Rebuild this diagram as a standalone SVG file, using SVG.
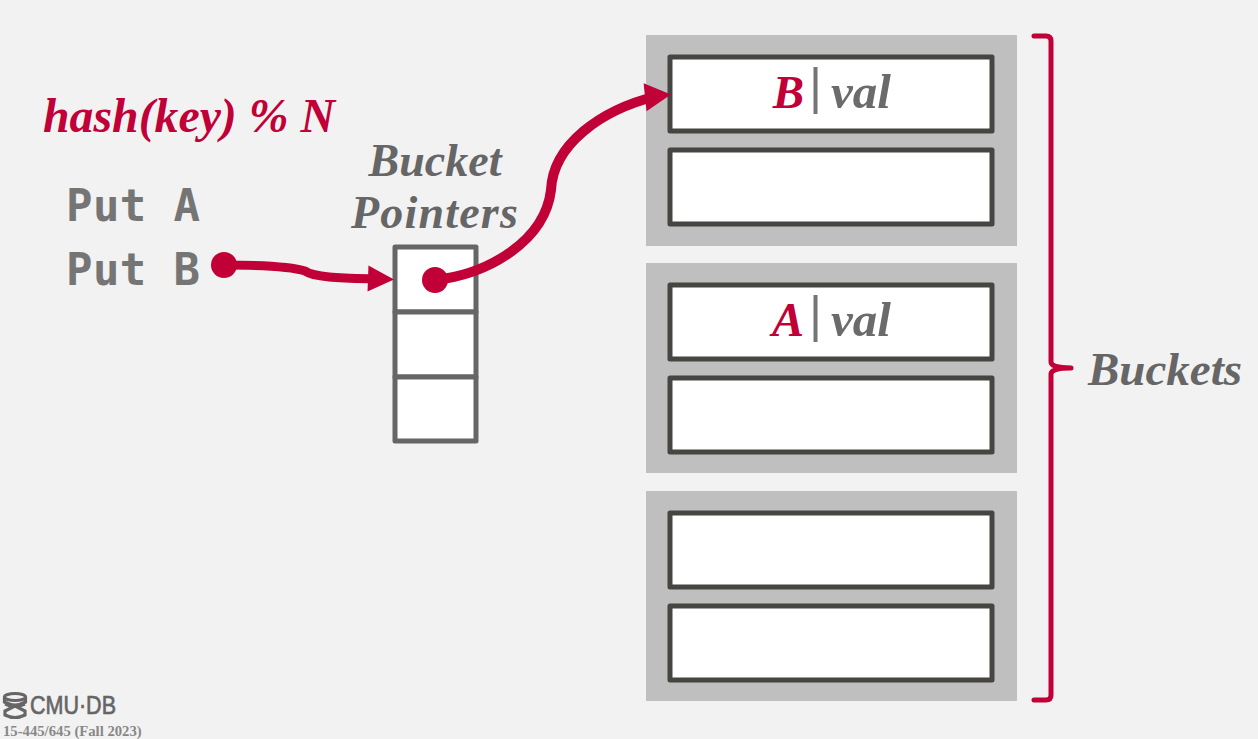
<svg xmlns="http://www.w3.org/2000/svg" width="1258" height="739" viewBox="0 0 1258 739">
<style>
.bg{fill:#bfbfbf}
.slot{fill:#fff;stroke:#464542;stroke-width:5;stroke-linejoin:round}
.ptr{fill:#fff;stroke:#666;stroke-width:5;stroke-linejoin:round}
.serif{font-family:"Liberation Serif",serif;font-style:italic;font-weight:bold}
.gray{fill:#666}
.red{fill:#c00036}
.mono{font-family:"DejaVu Sans Mono",monospace;font-weight:bold;font-size:44px;letter-spacing:.4px;fill:#757575}
.wire{fill:none;stroke:#c00036;stroke-width:9}
.wire-thick{stroke-width:10}
</style>
<defs>
<marker id="arrow-a" markerUnits="userSpaceOnUse" markerWidth="30" markerHeight="30" refX="13" refY="15" orient="2"><path d="M1 2L27 15L1 28Z" fill="#c00036"/></marker>
<marker id="arrow-b" markerUnits="userSpaceOnUse" markerWidth="30" markerHeight="30" refX="13" refY="15" orient="-6"><path d="M1 1L27 15L1 29Z" fill="#c00036"/></marker>
</defs>
<rect width="1258" height="739" fill="#f2f2f2"/>
<g id="bucket-1">
<rect class="bg" x="646" y="35" width="371" height="211"/>
<rect class="slot" x="670" y="57" width="322" height="74"/>
<rect class="slot" x="670" y="150" width="322" height="74"/>
<text class="serif red" x="804" y="108" font-size="47" text-anchor="end">B</text>
<rect x="813.500" y="67" width="4" height="47" fill="#757575"/>
<text class="serif" x="831" y="108" font-size="49" fill="#6b6b6b">val</text>
</g>
<g id="bucket-2">
<rect class="bg" x="646" y="263" width="371" height="210"/>
<rect class="slot" x="670" y="285" width="322" height="74"/>
<rect class="slot" x="670" y="378" width="322" height="74"/>
<text class="serif red" x="804" y="336" font-size="48" text-anchor="end">A</text>
<rect x="813.500" y="295" width="4" height="47" fill="#757575"/>
<text class="serif" x="831" y="336" font-size="49" fill="#6b6b6b">val</text>
</g>
<g id="bucket-3">
<rect class="bg" x="646" y="491" width="371" height="210"/>
<rect class="slot" x="670" y="513" width="322" height="74"/>
<rect class="slot" x="670" y="606" width="322" height="74"/>
</g>
<g id="bucket-pointers">
<rect class="ptr" x="395" y="247" width="81" height="65"/>
<rect class="ptr" x="395" y="312" width="81" height="65"/>
<rect class="ptr" x="395" y="377" width="81" height="64"/>
<text class="serif gray" x="435" y="176" font-size="46" text-anchor="middle">Bucket</text>
<text class="serif gray" x="435" y="228" font-size="46" letter-spacing="1.2" text-anchor="middle">Pointers</text>
</g>
<g id="hash-label"><text class="serif red" x="43" y="132" font-size="48" textLength="292" lengthAdjust="spacingAndGlyphs">hash(key) % N</text></g>
<g id="put-a"><text class="mono" x="66" y="221">Put A</text></g>
<g id="put-b"><text class="mono" x="66" y="285">Put B</text></g>
<g id="buckets-label"><text class="serif gray" x="1088" y="385" font-size="47">Buckets</text></g>
<g id="connectors">
<path class="wire" marker-end="url(#arrow-a)" d="M224 265C255 265 290 266 305 271C315 278 345 278 380 279"/>
<circle class="red" cx="224" cy="265" r="13"/>
<path class="wire wire-thick" marker-end="url(#arrow-b)" d="M435 280C490 274 545 240 551 190C553 145 600 110 657 96"/>
<circle class="red" cx="435" cy="280" r="13"/>
<path fill="none" stroke="#c00036" stroke-width="5" stroke-linecap="round" stroke-linejoin="round" d="M1034 36H1046Q1051 36 1051 41V362Q1051 368 1071 368Q1051 368 1051 374V695Q1051 700 1046 700H1034"/>
</g>
<g id="footer">
<g fill="none" stroke="#666" stroke-width="3.200"><ellipse cx="15" cy="697" rx="10.500" ry="3.500"/><path d="M4.500 697V702Q15 708 25.500 702V697M5 704L13 707L5 711V715Q15 720 25 715V711L17 707L25 704"/></g>
<text x="30" y="714" font-family="Liberation Sans,sans-serif" font-size="26" fill="#666" stroke="#666" stroke-width=".7" textLength="86" lengthAdjust="spacingAndGlyphs">CMU·DB</text>
<text x="3" y="736" font-family="Liberation Serif,serif" font-weight="bold" font-size="14.700" fill="#888">15-445/645 (Fall 2023)</text>
</g>
</svg>
